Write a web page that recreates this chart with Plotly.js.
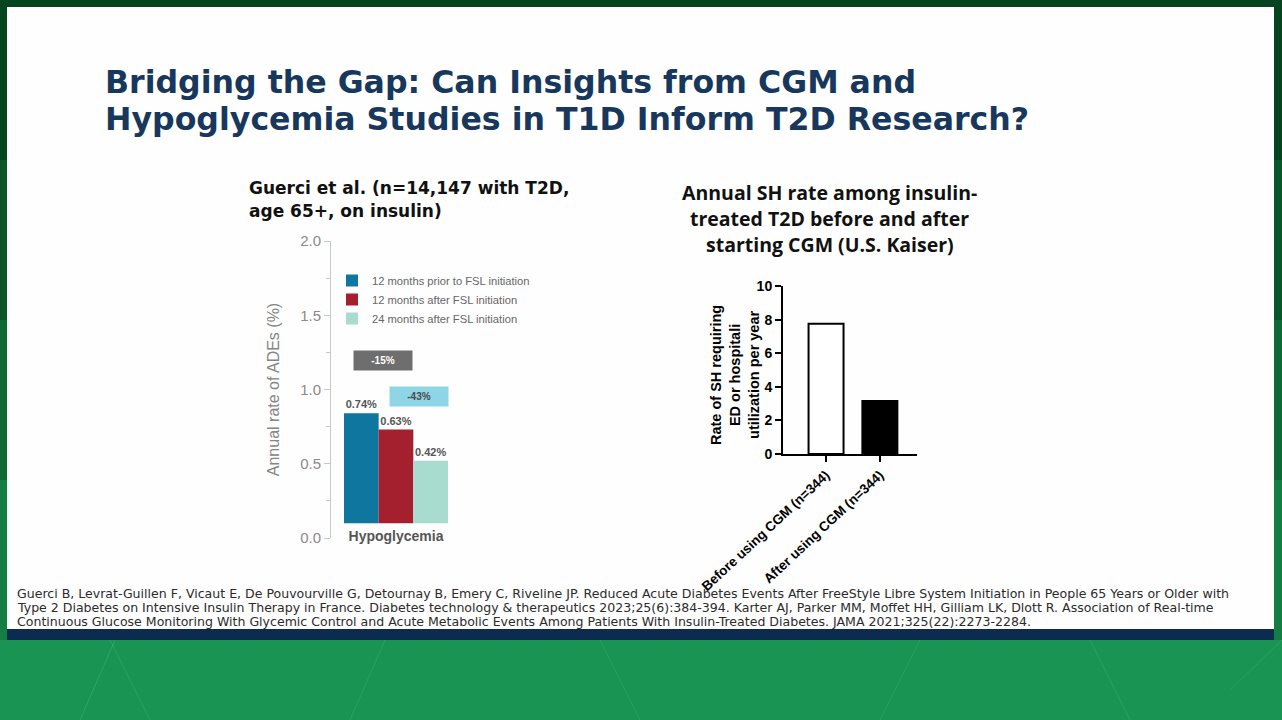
<!DOCTYPE html>
<html>
<head>
<meta charset="utf-8">
<script src="https://cdn.plot.ly/plotly-3.0.1.min.js"></script>
<style>html,body{margin:0;padding:0;background:#0f6b37;}#chart{width:1282px;height:720px;}</style>
</head>
<body>
<div id="chart"></div>
<script>
// ---------- Data ----------
const leftCategories = ['Hypoglycemia'];
const leftSeriesNames = ['12 months prior to FSL initiation', '12 months after FSL initiation', '24 months after FSL initiation'];
const prior12 = [0.74];
const after12 = [0.63];
const after24 = [0.42];
const leftBase = [0.1];
const leftTicks = [0, 0.5, 1.0, 1.5, 2.0];

const rightCategories = ['Before using CGM (n=344)', 'After using CGM (n=344)'];
const shRates = [7.75, 3.15];
const rightTicks = [0, 2, 4, 6, 8, 10];

const slideTitle = ['Bridging the Gap: Can Insights from CGM and', 'Hypoglycemia Studies in T1D Inform T2D Research?'];
const leftTitle = ['Guerci et al. (n=14,147 with T2D,', 'age 65+, on insulin)'];
const rightTitle = ['Annual SH rate among insulin-', 'treated T2D before and after', 'starting CGM (U.S. Kaiser)'];
const rightYTitle = 'Rate of SH requiring<br>ED or hospitali<br>utilization per year';
const footnote = [
  'Guerci B, Levrat-Guillen F, Vicaut E, De Pouvourville G, Detournay B, Emery C, Riveline JP. Reduced Acute Diabetes Events After FreeStyle Libre System Initiation in People 65 Years or Older with',
  'Type 2 Diabetes on Intensive Insulin Therapy in France. Diabetes technology & therapeutics 2023;25(6):384-394. Karter AJ, Parker MM, Moffet HH, Gilliam LK, Dlott R. Association of Real-time',
  'Continuous Glucose Monitoring With Glycemic Control and Acute Metabolic Events Among Patients With Insulin-Treated Diabetes. JAMA 2021;325(22):2273-2284.'
];

// ---------- Helpers ----------
const W = 1282, H = 720;
const fx = px => px / W;
const fy = py => 1 - py / H;

const leftColors = ['#0f76a0', '#a5202e', '#a7dccf'];
const leftValues = [prior12, after12, after24];

const traces = leftValues.map((vals, i) => ({
  type: 'bar',
  name: leftSeriesNames[i],
  x: leftCategories,
  y: vals,
  base: leftBase,
  text: vals.map(v => v.toFixed(2) + '%'),
  textposition: 'outside',
  cliponaxis: false,
  textfont: {family: 'Liberation Sans, Arial', size: 11, color: '#555555', weight: 700},
  marker: {color: leftColors[i], line: {width: 0}},
  xaxis: 'x', yaxis: 'y',
  hoverinfo: 'skip'
}));

traces.push({
  type: 'bar',
  name: 'SH rate',
  x: rightCategories,
  y: shRates,
  width: 0.65,
  showlegend: false,
  marker: {color: ['#ffffff', '#000000'], line: {color: '#000000', width: 2}},
  xaxis: 'x2', yaxis: 'y2',
  hoverinfo: 'skip'
});

const shapes = [
  {type: 'rect', xref: 'paper', yref: 'paper', x0: 0, x1: 1, y0: fy(0), y1: fy(160), fillcolor: '#05441f', line: {width: 0}, layer: 'below'},
  {type: 'rect', xref: 'paper', yref: 'paper', x0: 0, x1: 1, y0: fy(160), y1: fy(320), fillcolor: '#095629', line: {width: 0}, layer: 'below'},
  {type: 'rect', xref: 'paper', yref: 'paper', x0: 0, x1: 1, y0: fy(320), y1: fy(480), fillcolor: '#0e6a35', line: {width: 0}, layer: 'below'},
  {type: 'rect', xref: 'paper', yref: 'paper', x0: 0, x1: 1, y0: fy(480), y1: fy(640), fillcolor: '#147e42', line: {width: 0}, layer: 'below'},
  {type: 'rect', xref: 'paper', yref: 'paper', x0: 0, x1: 1, y0: fy(640), y1: fy(720), fillcolor: '#199453', line: {width: 0}, layer: 'below'},
  {type: 'line', xref: 'paper', yref: 'paper', x0: fx(80), y0: fy(720), x1: fx(115), y1: fy(640), line: {color: 'rgba(120,210,150,0.25)', width: 1}, layer: 'below'},
  {type: 'line', xref: 'paper', yref: 'paper', x0: fx(150), y0: fy(720), x1: fx(110), y1: fy(640), line: {color: 'rgba(120,210,150,0.2)', width: 1}, layer: 'below'},
  {type: 'line', xref: 'paper', yref: 'paper', x0: fx(350), y0: fy(720), x1: fx(385), y1: fy(640), line: {color: 'rgba(120,210,150,0.2)', width: 1}, layer: 'below'},
  {type: 'line', xref: 'paper', yref: 'paper', x0: fx(640), y0: fy(720), x1: fx(600), y1: fy(640), line: {color: 'rgba(120,210,150,0.2)', width: 1}, layer: 'below'},
  {type: 'line', xref: 'paper', yref: 'paper', x0: fx(880), y0: fy(720), x1: fx(920), y1: fy(640), line: {color: 'rgba(120,210,150,0.2)', width: 1}, layer: 'below'},
  {type: 'line', xref: 'paper', yref: 'paper', x0: fx(1130), y0: fy(720), x1: fx(1090), y1: fy(640), line: {color: 'rgba(120,210,150,0.2)', width: 1}, layer: 'below'},
  {type: 'line', xref: 'paper', yref: 'paper', x0: fx(1230), y0: fy(690), x1: fx(1282), y1: fy(640), line: {color: 'rgba(120,210,150,0.2)', width: 1}, layer: 'below'},
  {type: 'rect', xref: 'paper', yref: 'paper', x0: fx(7), x1: fx(1274), y0: fy(629), y1: fy(7), fillcolor: '#fefefe', line: {width: 0}, layer: 'below'},
  {type: 'rect', xref: 'paper', yref: 'paper', x0: fx(7), x1: fx(1274), y0: fy(640), y1: fy(629), fillcolor: '#0c2b4e', line: {width: 0}, layer: 'below'}
];

const annotations = [];
slideTitle.forEach((t, i) => annotations.push({
  xref: 'paper', yref: 'paper', x: fx(103), y: fy(82 + i * 37), xanchor: 'left', yanchor: 'middle',
  text: t, showarrow: false, font: {family: 'DejaVu Sans, sans-serif', size: 31.6, color: '#17375c', weight: 700}
}));
leftTitle.forEach((t, i) => annotations.push({
  xref: 'paper', yref: 'paper', x: fx(247), y: fy(188 + i * 23), xanchor: 'left', yanchor: 'middle',
  text: t, showarrow: false, font: {family: 'DejaVu Sans, sans-serif', size: 17, color: '#111111', weight: 700}
}));
rightTitle.forEach((t, i) => annotations.push({
  xref: 'paper', yref: 'paper', x: fx(830), y: fy(193 + i * 25.5), xanchor: 'center', yanchor: 'middle',
  text: t, showarrow: false, font: {family: 'Open Sans, sans-serif', size: 19.5, color: '#111111', weight: 700}
}));
footnote.forEach((t, i) => annotations.push({
  xref: 'paper', yref: 'paper', x: fx(15), y: fy(593 + i * 14), xanchor: 'left', yanchor: 'middle',
  text: t, showarrow: false, font: {family: 'DejaVu Sans, sans-serif', size: 12.55, color: '#2b2b2b'}
}));
annotations.push({
  xref: 'paper', yref: 'paper', x: fx(735), y: fy(375), xanchor: 'center', yanchor: 'middle', textangle: -90,
  text: rightYTitle, showarrow: false,
  font: {family: 'Liberation Sans, Arial', size: 14.5, color: '#000000', weight: 700}
});
annotations.push({
  xref: 'paper', yref: 'y', x: fx(383), y: 1.195, xanchor: 'center', yanchor: 'middle',
  text: '<b>-15%</b>', showarrow: false, width: 56, height: 17, bgcolor: '#6e6e6e', borderpad: 1,
  font: {family: 'Liberation Sans, Arial', size: 10, color: '#ffffff'}
});
annotations.push({
  xref: 'paper', yref: 'y', x: fx(419), y: 0.956, xanchor: 'center', yanchor: 'middle',
  text: '<b>-43%</b>', showarrow: false, width: 56, height: 17, bgcolor: '#8ed5e6', borderpad: 1,
  font: {family: 'Liberation Sans, Arial', size: 10, color: '#4a4a4a'}
});

const layout = {
  width: W, height: H,
  margin: {l: 0, r: 0, t: 0, b: 0},
  paper_bgcolor: '#0f6b37',
  plot_bgcolor: 'rgba(0,0,0,0)',
  barmode: 'group',
  bargap: 0.2,
  bargroupgap: 0,
  showlegend: true,
  legend: {
    x: fx(332), y: fy(266), xanchor: 'left', yanchor: 'top',
    bgcolor: 'rgba(0,0,0,0)', traceorder: 'normal',
    font: {family: 'Liberation Sans, Arial', size: 11.2, color: '#666666'},
    tracegroupgap: 0, itemclick: false
  },
  xaxis: {
    domain: [fx(331), fx(461)],
    anchor: 'free', position: fy(526),
    range: [-0.5, 0.5],
    showline: false, ticks: '', showgrid: false, zeroline: false,
    tickfont: {family: 'Liberation Sans, Arial', size: 14, color: '#555555', weight: 700}
  },
  yaxis: {
    domain: [fy(538), fy(241)],
    anchor: 'x',
    range: [0, 2],
    tickvals: leftTicks, tickformat: '.1f',
    showline: true, linecolor: '#c9c9c9', linewidth: 1,
    ticks: 'outside', ticklen: 6, tickcolor: '#c9c9c9',
    minor: {dtick: 0.25, ticks: 'outside', ticklen: 4, tickcolor: '#c9c9c9', showgrid: false},
    showgrid: false, zeroline: false,
    tickfont: {family: 'Liberation Sans, Arial', size: 15, color: '#8a8a8a'},
    title: {text: 'Annual rate of ADEs (%)', standoff: 16, font: {family: 'Liberation Sans, Arial', size: 16, color: '#858585'}}
  },
  xaxis2: {
    domain: [fx(783), fx(917)],
    anchor: 'y2',
    range: [-0.8, 1.69],
    showline: true, linecolor: '#000000', linewidth: 2,
    ticks: 'outside', ticklen: 6, tickwidth: 2, tickcolor: '#000000',
    tickangle: -43,
    showgrid: false, zeroline: false,
    tickfont: {family: 'Liberation Sans, Arial', size: 13.5, color: '#000000', weight: 700}
  },
  yaxis2: {
    domain: [fy(454), fy(286)],
    anchor: 'x2',
    range: [0, 10],
    tickvals: rightTicks,
    showline: true, linecolor: '#000000', linewidth: 2,
    ticks: 'outside', ticklen: 6, tickwidth: 2, tickcolor: '#000000',
    showgrid: false, zeroline: false,
    tickfont: {family: 'Liberation Sans, Arial', size: 14, color: '#000000', weight: 700}
  },
  shapes: shapes,
  annotations: annotations
};

Plotly.newPlot('chart', traces, layout, {displayModeBar: false, staticPlot: true});
</script>
</body>
</html>
